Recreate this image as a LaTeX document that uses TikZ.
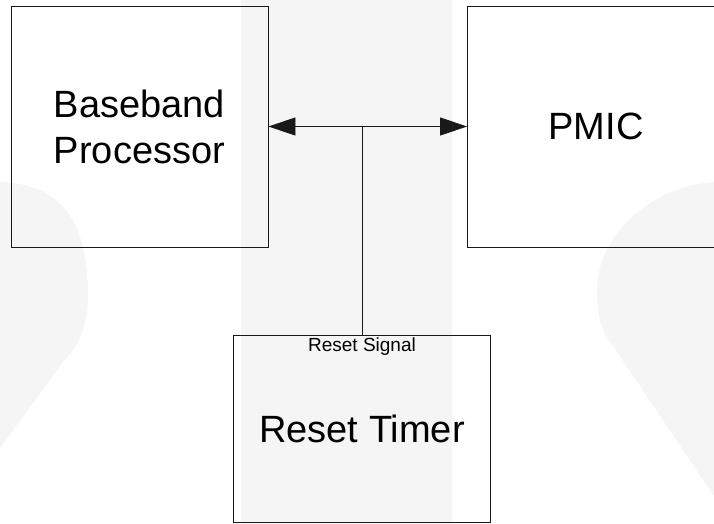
\documentclass[tikz,border=0pt]{standalone}
\usepackage{fontspec}
\setmainfont{Liberation Sans}
\usetikzlibrary{arrows.meta}
\definecolor{wmgray}{RGB}{245,245,245}
\tikzset{
  block/.style={draw=black!90, line width=0.8pt, rectangle, minimum width=257pt,
    inner sep=0pt, align=center, font=\fontsize{38}{46}\selectfont},
  wire/.style={draw=black!90, line width=0.8pt},
  bigtip/.style={Triangle[length=27pt,width=18pt]},
}

\begin{document}
\begin{tikzpicture}[x=1pt,y=-1pt]

      \clip (0,0) rectangle (714,523);

      % faint watermark behind everything
      \fill[wmgray] (241,0) rectangle (452,523);
      \fill[wmgray] (-5,182) .. controls (65,182) and (88,225) .. (88,297)
                    .. controls (88,330) and (75,350) .. (63,362) -- (-5,455) -- cycle;
      \fill[wmgray] (720,182) .. controls (660,182) and (597,230) .. (597,290)
                    .. controls (597,320) and (603,333) .. (613,346) -- (720,505) -- cycle;

      % the three blocks
      \node[block, minimum height=241pt] (base) at (139.5,126.5) {Baseband\\Processor};
      \node[block, minimum height=241pt] (pmic) at (596,126.5) {PMIC};
      \node[block, minimum height=187pt] (timer) at (362,428.5) {Reset Timer};
      \node[below, inner sep=3pt, font=\fontsize{19}{22}\selectfont] (siglabel) at (timer.north) {Reset Signal};

      % signal lines
      \coordinate (tee) at (362,126.5);
      \draw[wire, {Triangle[length=27pt,width=18pt]}-{Triangle[length=27pt,width=18pt]}] (base) -- (pmic);
      \draw[wire] (timer.north) -- (tee);

\end{tikzpicture}
\end{document}
